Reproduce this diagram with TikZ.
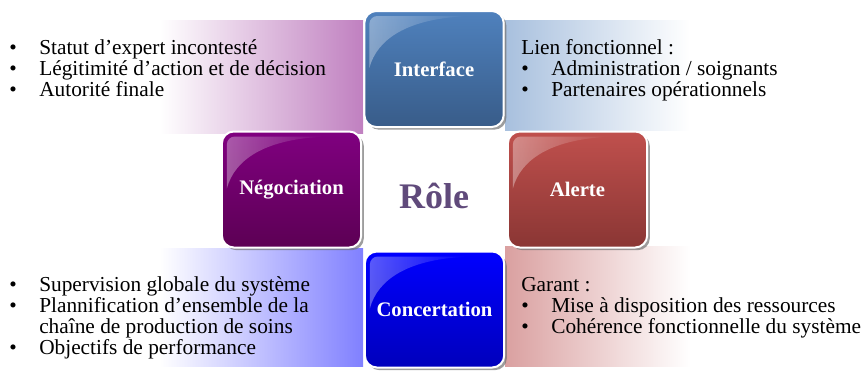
\documentclass[tikz,border=0pt]{standalone}
\usepackage{fontspec}
\setmainfont{Liberation Serif}
\usetikzlibrary{%
  calc,%
  shadows,%
  fadings%
}
\definecolor{ifblue}{RGB}{79,129,189}
\definecolor{ifbluedk}{RGB}{56,92,137}
\definecolor{negpurple}{RGB}{128,0,128}
\definecolor{negpurpledk}{RGB}{92,0,84}
\definecolor{alred}{RGB}{192,80,77}
\definecolor{alreddk}{RGB}{138,54,52}
\definecolor{cnblue}{RGB}{0,0,255}
\definecolor{cnbluedk}{RGB}{0,0,188}
\definecolor{tlband}{RGB}{192,128,192}
\definecolor{trband}{RGB}{168,192,222}
\definecolor{blband}{RGB}{128,128,255}
\definecolor{brband}{RGB}{218,160,160}
\definecolor{rolecol}{RGB}{96,74,123}
\tikzset{x=0.75pt, y=-0.75pt,
  rolebox/.style={draw=white, line width=1.5pt, rounded corners=9pt,
    minimum width=104.5pt, minimum height=87pt, text=white,
    font=\fontsize{15.5}{17}\selectfont\bfseries,
    drop shadow={shadow xshift=2pt, shadow yshift=-2pt, fill=black!55, opacity=0.7}},
  glossy/.style={fill=white, fill opacity=0.35, path fading=east},
  bullets/.style={anchor=base west, inner sep=0pt,
    font=\fontsize{16}{15.75}\selectfont}}
\newcommand{\boxgloss}[1]{%
  \fill[glossy] ($(#1.north west)+(6,58)$) [rounded corners=6pt]
    -- ($(#1.north west)+(6,6)$) -- ($(#1.north west)+(105,6)$) [sharp corners]
    .. controls ($(#1.north west)+(45,10)$) and ($(#1.north west)+(14,28)$)
    .. ($(#1.north west)+(6,58)$);}

\begin{document}
\begin{tikzpicture}
  \useasboundingbox (0,0) rectangle (862,372);
  % bands
  \shade[left color=white, right color=tlband] (160,20) rectangle (363,133);
  \shade[left color=trband, right color=white] (505,20) rectangle (690,130);
  \shade[left color=white, right color=blband] (160,248) rectangle (363,366);
  \shade[left color=brband, right color=white] (505,246) rectangle (690,366);

  % boxes
  \node[rolebox, top color=ifblue, bottom color=ifbluedk] (interface) at (434,69) {Interface};
  \node[rolebox, top color=negpurple, bottom color=negpurpledk] (negociation) at (291.5,189.5) {Négociation};
  \node[rolebox, top color=alred, bottom color=alreddk] (alerte) at (577.5,189.5) {Alerte};
  \node[rolebox, top color=cnblue, bottom color=cnbluedk] (concertation) at (434.5,309.5) {Concertation};
  \boxgloss{interface}
  \boxgloss{negociation}
  \boxgloss{alerte}
  \boxgloss{concertation}

  \node[font=\fontsize{27}{32}\selectfont\bfseries, text=rolecol] (role) at (434,196) {Rôle};

  % texts
  \node[bullets] (statut) at (9,54) {\begin{tabular}[t]{@{}p{22.5pt}@{}l@{}}
    • & Statut d’expert incontesté\\
    • & Légitimité d’action et de décision\\
    • & Autorité finale
  \end{tabular}};
  \node[bullets] (lien) at (521,54) {\begin{tabular}[t]{@{}p{22.5pt}@{}l@{}}
    \multicolumn{2}{@{}l@{}}{Lien fonctionnel :}\\
    • & Administration / soignants\\
    • & Partenaires opérationnels
  \end{tabular}};
  \node[bullets] (supervision) at (9,291) {\begin{tabular}[t]{@{}p{22.5pt}@{}l@{}}
    • & Supervision globale du système\\
    • & Plannification d’ensemble de la\\
      & chaîne de production de soins\\
    • & Objectifs de performance
  \end{tabular}};
  \node[bullets] (garant) at (521,291) {\begin{tabular}[t]{@{}p{22.5pt}@{}l@{}}
    \multicolumn{2}{@{}l@{}}{Garant :}\\
    • & Mise à disposition des ressources\\
    • & Cohérence fonctionnelle du système
  \end{tabular}};
\end{tikzpicture}
\end{document}
